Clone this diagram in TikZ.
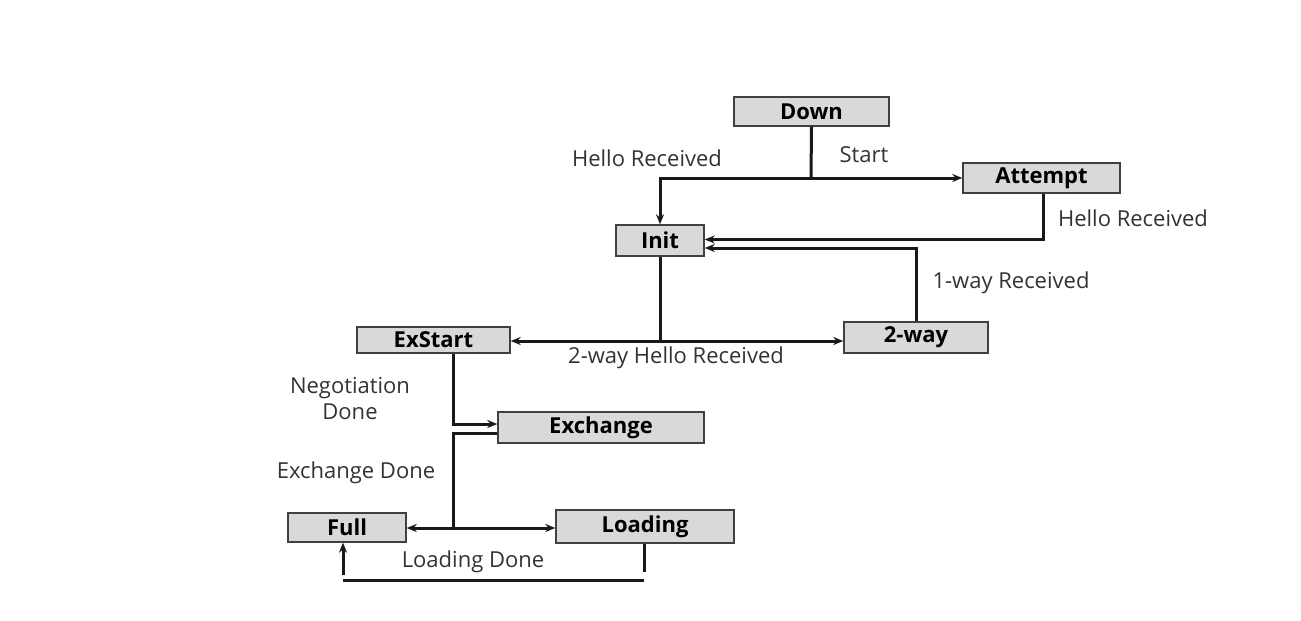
\documentclass[tikz,border=0pt]{standalone}
\usepackage{fontspec}
\setmainfont{Open Sans}
\usetikzlibrary{arrows.meta}

\begin{document}
\begin{tikzpicture}[x=0.5pt,y=-0.5pt,
  state/.style={draw=black!75,fill=gray!30,line width=0.7pt,font=\fontsize{11}{13}\selectfont\bfseries,inner sep=0pt},
  lbl/.style={font=\fontsize{11}{13}\selectfont,text=black!80,align=center},
  link/.style={line width=1.5pt,draw=black!90},
  arr/.style={link,-{Stealth[length=5pt,width=4pt]}}]
\useasboundingbox (0,0) rectangle (1301,621);
% states
\node[state,minimum width=77.5pt,minimum height=14.5pt] (down) at (811.5,111.5) {Down};
\node[state,minimum width=78.5pt,minimum height=15pt] (attempt) at (1041.5,178) {Attempt};
\node[state,minimum width=44pt,minimum height=15.5pt] (init) at (660,240.5) {Init};
\node[state,minimum width=76.5pt,minimum height=13pt] (exstart) at (433.5,340) {ExStart};
\node[state,minimum width=72pt,minimum height=15.5pt] (twoway) at (916,337.5) {2-way};
\node[state,minimum width=103pt,minimum height=15.5pt] (exchange) at (601,427.5) {Exchange};
\node[state,minimum width=59pt,minimum height=14.5pt] (full) at (347,527.5) {Full};
\node[state,minimum width=89pt,minimum height=16.5pt] (loading) at (645,526.5) {Loading};
% transitions
\coordinate (j1) at (811,178);
\draw[link] (down.south) -- (j1);
\draw[arr] (j1) -| (init.north);
\draw[arr] (j1) -- (attempt.west |- j1);
\draw[arr] ([xshift=0.75pt]attempt.south) |- ([yshift=0.5pt]init.east);
\draw[arr] (twoway.north) |- ([yshift=-3.75pt]init.east);
\coordinate (j2) at (660,341);
\draw[link] (init.south) -- (j2);
\draw[arr] (j2) -- (exstart.east |- j2);
\draw[arr] (j2) -- (twoway.west |- j2);
\draw[arr] ([xshift=9.75pt]exstart.south) |- ([yshift=1.75pt]exchange.west);
\coordinate (j3) at (453,528);
\draw[link] ([yshift=-2.75pt]exchange.west) -| (j3);
\draw[arr] (j3) -- (full.east |- j3);
\draw[arr] (j3) -- (loading.west |- j3);
\coordinate (ld) at (644,572);
\coordinate (ret) at (343,575);
\draw[link] ([xshift=-0.5pt]loading.south) -- (ld);
\draw[link] (343,580) -- (644,580);
\draw[arr] (ret) -- (ret |- full.south);
% labels
\node[lbl] (l1) at (647,158) {Hello Received};
\node[lbl] (l2) at (864,155) {Start};
\node[lbl] (l3) at (1133,218) {Hello Received};
\node[lbl] (l4) at (1011,283) {1-way Received};
\node[lbl] (l5) at (676,358) {2-way Hello Received};
\node[lbl,text depth=0pt] (l6) at (350,398) {Negotiation\\Done};
\node[lbl] (l7) at (356,473) {Exchange Done};
\node[lbl] (l8) at (473,562) {Loading Done};
\end{tikzpicture}
\end{document}
